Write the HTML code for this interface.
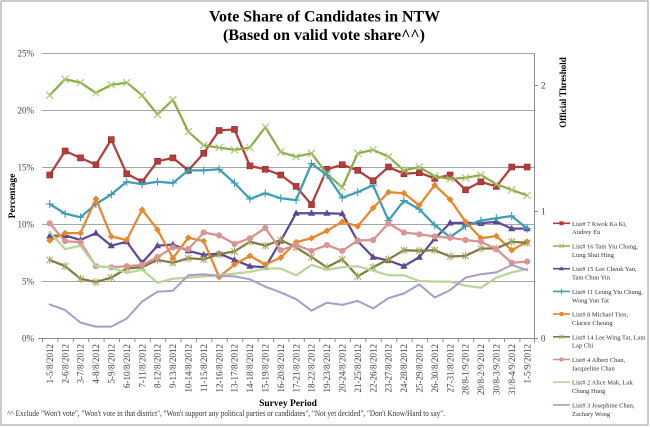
<!DOCTYPE html>
<html><head><meta charset="utf-8"><style>
html,body{margin:0;padding:0;background:#fff;}
svg{display:block;}
text{font-family:"Liberation Serif","Times New Roman",serif;}
</style></head><body>
<svg width="650" height="427" viewBox="0 0 650 427" xmlns="http://www.w3.org/2000/svg">
<defs>
<marker id="mSq" markerWidth="8" markerHeight="8" refX="4" refY="4" markerUnits="userSpaceOnUse"><rect x="1" y="1" width="6" height="6" fill="#B63B3B" stroke="#8F2D2B" stroke-width="0.6"/></marker>
<marker id="mX" markerWidth="10" markerHeight="10" refX="5" refY="5" markerUnits="userSpaceOnUse"><path d="M1.5,1.5 L8.5,8.5 M8.5,1.5 L1.5,8.5" stroke="#A9C56E" stroke-width="1.1" fill="none"/></marker>
<marker id="mTri" markerWidth="10" markerHeight="10" refX="5" refY="5" markerUnits="userSpaceOnUse"><path d="M5,1.2 L8.6,7.6 L1.4,7.6 Z" fill="#5B4893"/></marker>
<marker id="mPlus" markerWidth="10" markerHeight="10" refX="5" refY="5" markerUnits="userSpaceOnUse"><path d="M5,1 V9 M1,5 H9" stroke="#3C9DB6" stroke-width="1.1" fill="none"/></marker>
<marker id="mOr" markerWidth="10" markerHeight="10" refX="5" refY="5" markerUnits="userSpaceOnUse"><path d="M5,1.6 L8.4,5 L5,8.4 L1.6,5 Z" fill="#E8872C"/></marker>
<marker id="mStar" markerWidth="10" markerHeight="10" refX="5" refY="5" markerUnits="userSpaceOnUse"><path d="M1.8,1.8 L8.2,8.2 M8.2,1.8 L1.8,8.2 M5,1 V9" stroke="#A7A35A" stroke-width="1" fill="none"/></marker>
<marker id="mCir" markerWidth="10" markerHeight="10" refX="5" refY="5" markerUnits="userSpaceOnUse"><circle cx="5" cy="5" r="3.1" fill="#D99594"/></marker>
</defs>

<rect x="1" y="1" width="647" height="424" fill="#fff" stroke="#9A9A9A" stroke-width="1"/>

<!-- Title -->
<text x="324.5" y="21.7" font-size="16" font-weight="bold" text-anchor="middle" textLength="231" lengthAdjust="spacingAndGlyphs" fill="#000">Vote Share of Candidates in NTW</text>
<text x="324" y="40" font-size="16" font-weight="bold" text-anchor="middle" textLength="202" lengthAdjust="spacingAndGlyphs" fill="#000">(Based on valid vote share^^)</text>

<!-- gridlines -->
<g stroke="#A6A6A6" stroke-width="1">
<line x1="42" y1="53.5" x2="534.5" y2="53.5"/>
<line x1="42" y1="110.5" x2="534.5" y2="110.5"/>
<line x1="42" y1="167.5" x2="534.5" y2="167.5"/>
<line x1="42" y1="224.5" x2="534.5" y2="224.5"/>
<line x1="42" y1="281.5" x2="534.5" y2="281.5"/>
</g>
<g stroke="#8C8C8C" stroke-width="1">
<line x1="42" y1="338.5" x2="534.5" y2="338.5"/>
<line x1="534.5" y1="53" x2="534.5" y2="338.5"/>
<line x1="534.5" y1="85.5" x2="538" y2="85.5"/>
<line x1="534.5" y1="211.5" x2="538" y2="211.5"/>
<line x1="534.5" y1="338.5" x2="538" y2="338.5"/>
<line x1="38" y1="338.5" x2="42" y2="338.5"/>
</g>
<!-- x ticks -->
<g stroke="#8C8C8C" stroke-width="1">
<line x1="42.5" y1="338" x2="42.5" y2="342"/><line x1="57.9" y1="338" x2="57.9" y2="342"/><line x1="73.3" y1="338" x2="73.3" y2="342"/><line x1="88.7" y1="338" x2="88.7" y2="342"/><line x1="104.1" y1="338" x2="104.1" y2="342"/><line x1="119.5" y1="338" x2="119.5" y2="342"/><line x1="134.9" y1="338" x2="134.9" y2="342"/><line x1="150.3" y1="338" x2="150.3" y2="342"/><line x1="165.7" y1="338" x2="165.7" y2="342"/><line x1="181.1" y1="338" x2="181.1" y2="342"/><line x1="196.5" y1="338" x2="196.5" y2="342"/><line x1="211.9" y1="338" x2="211.9" y2="342"/><line x1="227.3" y1="338" x2="227.3" y2="342"/><line x1="242.7" y1="338" x2="242.7" y2="342"/><line x1="258.1" y1="338" x2="258.1" y2="342"/><line x1="273.5" y1="338" x2="273.5" y2="342"/><line x1="288.9" y1="338" x2="288.9" y2="342"/><line x1="304.3" y1="338" x2="304.3" y2="342"/><line x1="319.7" y1="338" x2="319.7" y2="342"/><line x1="335.1" y1="338" x2="335.1" y2="342"/><line x1="350.5" y1="338" x2="350.5" y2="342"/><line x1="365.9" y1="338" x2="365.9" y2="342"/><line x1="381.3" y1="338" x2="381.3" y2="342"/><line x1="396.7" y1="338" x2="396.7" y2="342"/><line x1="412.1" y1="338" x2="412.1" y2="342"/><line x1="427.5" y1="338" x2="427.5" y2="342"/><line x1="442.9" y1="338" x2="442.9" y2="342"/><line x1="458.3" y1="338" x2="458.3" y2="342"/><line x1="473.7" y1="338" x2="473.7" y2="342"/><line x1="489.1" y1="338" x2="489.1" y2="342"/><line x1="504.5" y1="338" x2="504.5" y2="342"/><line x1="519.9" y1="338" x2="519.9" y2="342"/><line x1="534.5" y1="338" x2="534.5" y2="342"/>
</g>

<!-- y labels -->
<g font-size="9" fill="#404040" text-anchor="end">
<text x="34" y="56.5">25%</text>
<text x="34" y="113.5">20%</text>
<text x="34" y="170.5">15%</text>
<text x="34" y="227.5">10%</text>
<text x="34" y="284.5">5%</text>
<text x="34" y="341.5">0%</text>
</g>
<g font-size="9" fill="#404040">
<text x="541" y="88.5">2</text>
<text x="541" y="214.5">1</text>
<text x="541" y="341.5">0</text>
</g>
<text transform="translate(15,196) rotate(-90)" font-size="9.5" font-weight="bold" text-anchor="middle" fill="#000">Percentage</text>
<text transform="translate(566,92.5) rotate(-90)" font-size="9" font-weight="bold" text-anchor="middle" fill="#000">Official Threshold</text>

<!-- x labels -->
<g font-size="9" fill="#404040" text-anchor="end">
<text transform="translate(52.9,344) rotate(-90)">1-5/8/2012</text>
<text transform="translate(68.3,344) rotate(-90)">2-6/8/2012</text>
<text transform="translate(83.7,344) rotate(-90)">3-7/8/2012</text>
<text transform="translate(99.1,344) rotate(-90)">4-8/8/2012</text>
<text transform="translate(114.5,344) rotate(-90)">5-9/8/2012</text>
<text transform="translate(129.9,344) rotate(-90)">6-10/8/2012</text>
<text transform="translate(145.3,344) rotate(-90)">7-11/8/2012</text>
<text transform="translate(160.7,344) rotate(-90)">8-12/8/2012</text>
<text transform="translate(176.1,344) rotate(-90)">9-13/8/2012</text>
<text transform="translate(191.5,344) rotate(-90)">10-14/8/2012</text>
<text transform="translate(206.9,344) rotate(-90)">11-15/8/2012</text>
<text transform="translate(222.3,344) rotate(-90)">12-16/8/2012</text>
<text transform="translate(237.7,344) rotate(-90)">13-17/8/2012</text>
<text transform="translate(253.1,344) rotate(-90)">14-18/8/2012</text>
<text transform="translate(268.5,344) rotate(-90)">15-19/8/2012</text>
<text transform="translate(283.9,344) rotate(-90)">16-20/8/2012</text>
<text transform="translate(299.3,344) rotate(-90)">17-21/8/2012</text>
<text transform="translate(314.7,344) rotate(-90)">18-22/8/2012</text>
<text transform="translate(330.1,344) rotate(-90)">19-23/8/2012</text>
<text transform="translate(345.5,344) rotate(-90)">20-24/8/2012</text>
<text transform="translate(360.9,344) rotate(-90)">21-25/8/2012</text>
<text transform="translate(376.3,344) rotate(-90)">22-26/8/2012</text>
<text transform="translate(391.7,344) rotate(-90)">23-27/8/2012</text>
<text transform="translate(407.1,344) rotate(-90)">24-28/8/2012</text>
<text transform="translate(422.5,344) rotate(-90)">25-29/8/2012</text>
<text transform="translate(437.9,344) rotate(-90)">26-30/8/2012</text>
<text transform="translate(453.3,344) rotate(-90)">27-31/8/2012</text>
<text transform="translate(468.7,344) rotate(-90)">28/8-1/9/2012</text>
<text transform="translate(484.1,344) rotate(-90)">29/8-2/9/2012</text>
<text transform="translate(499.5,344) rotate(-90)">30/8-3/9/2012</text>
<text transform="translate(514.9,344) rotate(-90)">31/8-4/9/2012</text>
<text transform="translate(530.3,344) rotate(-90)">1-5/9/2012</text>
</g>

<text x="288" y="406" font-size="9.5" font-weight="bold" text-anchor="middle" fill="#000">Survey Period</text>
<text x="7" y="416" font-size="8" fill="#333" textLength="438" lengthAdjust="spacingAndGlyphs">^^ Exclude "Won't vote", "Won't vote in that district", "Won't support any political parties or candidates", "Not yet decided", "Don't Know/Hard to say".</text>

<!-- series -->
<g fill="none" stroke-linejoin="round" stroke-linecap="round">
<polyline stroke="#B13E3D" stroke-width="2.25" marker-start="url(#mSq)" marker-mid="url(#mSq)" marker-end="url(#mSq)" points="49.7,175.0 65.1,151.0 80.5,157.9 95.9,164.7 111.3,139.6 126.7,173.8 142.1,181.8 157.5,161.3 172.9,157.9 188.3,170.4 203.7,153.3 219.1,130.5 234.5,129.4 249.9,165.9 265.3,169.3 280.7,175.0 296.1,186.4 311.5,204.6 326.9,169.3 342.3,164.7 357.7,170.4 373.1,180.7 388.5,167.0 403.9,173.8 419.3,172.7 434.7,178.4 450.1,175.0 465.5,189.8 480.9,181.8 496.3,186.4 511.7,167.0 527.1,167.0"/>
<polyline stroke="#8CAD4A" stroke-width="2.25" marker-start="url(#mX)" marker-mid="url(#mX)" marker-end="url(#mX)" points="49.7,95.2 65.1,79.2 80.5,82.6 95.9,92.9 111.3,84.9 126.7,82.6 142.1,95.2 157.5,114.6 172.9,99.7 188.3,131.7 203.7,145.3 219.1,147.6 234.5,149.9 249.9,147.6 265.3,127.1 280.7,152.2 296.1,156.7 311.5,153.3 326.9,173.8 342.3,187.5 357.7,153.3 373.1,149.9 388.5,156.7 403.9,170.4 419.3,167.0 434.7,176.1 450.1,179.0 465.5,177.8 480.9,175.0 496.3,184.1 511.7,189.8 527.1,195.5"/>
<polyline stroke="#5E4A95" stroke-width="2.25" marker-start="url(#mTri)" marker-mid="url(#mTri)" marker-end="url(#mTri)" points="49.7,236.0 65.1,235.4 80.5,240.0 95.9,233.1 111.3,245.7 126.7,241.7 142.1,262.8 157.5,245.7 172.9,244.5 188.3,250.8 203.7,254.8 219.1,253.6 234.5,259.9 249.9,266.2 265.3,267.3 280.7,241.1 296.1,213.2 311.5,213.2 326.9,213.2 342.3,213.7 357.7,241.1 373.1,257.1 388.5,260.5 403.9,266.2 419.3,257.1 434.7,238.8 450.1,222.9 465.5,222.9 480.9,223.4 496.3,221.7 511.7,228.6 527.1,228.6"/>
<polyline stroke="#3C9DB6" stroke-width="2.25" marker-start="url(#mPlus)" marker-mid="url(#mPlus)" marker-end="url(#mPlus)" points="49.7,204.0 65.1,213.7 80.5,217.2 95.9,204.0 111.3,194.4 126.7,181.8 142.1,184.1 157.5,181.8 172.9,183.0 188.3,170.4 203.7,170.4 219.1,169.3 234.5,183.0 249.9,198.9 265.3,193.2 280.7,198.3 296.1,200.1 311.5,163.6 326.9,175.0 342.3,197.8 357.7,192.1 373.1,185.2 388.5,220.6 403.9,200.6 419.3,209.2 434.7,225.1 450.1,237.1 465.5,226.3 480.9,220.6 496.3,218.3 511.7,216.0 527.1,228.6"/>
<polyline stroke="#E8872C" stroke-width="2.25" marker-start="url(#mOr)" marker-mid="url(#mOr)" marker-end="url(#mOr)" points="49.7,240.5 65.1,233.1 80.5,233.1 95.9,198.9 111.3,236.5 126.7,240.0 142.1,209.7 157.5,229.7 172.9,258.2 188.3,237.7 203.7,241.1 219.1,277.0 234.5,264.5 249.9,255.9 265.3,264.5 280.7,257.6 296.1,242.2 311.5,238.2 326.9,230.8 342.3,221.7 357.7,226.3 373.1,208.0 388.5,192.1 403.9,193.2 419.3,205.2 434.7,185.2 450.1,199.5 465.5,221.7 480.9,238.2 496.3,236.0 511.7,250.2 527.1,241.7"/>
<polyline stroke="#7D7D44" stroke-width="2.25" marker-start="url(#mStar)" marker-mid="url(#mStar)" marker-end="url(#mStar)" points="49.7,259.9 65.1,266.2 80.5,278.7 95.9,282.1 111.3,277.6 126.7,268.5 142.1,267.3 157.5,259.9 172.9,262.8 188.3,258.2 203.7,259.3 219.1,254.2 234.5,251.4 249.9,241.7 265.3,245.7 280.7,240.0 296.1,247.4 311.5,257.1 326.9,267.3 342.3,259.3 357.7,276.4 373.1,267.3 388.5,259.3 403.9,250.2 419.3,250.8 434.7,250.2 450.1,256.5 465.5,255.9 480.9,248.5 496.3,248.5 511.7,241.7 527.1,242.8"/>
<polyline stroke="#D9908F" stroke-width="2.25" marker-start="url(#mCir)" marker-mid="url(#mCir)" marker-end="url(#mCir)" points="49.7,223.4 65.1,241.1 80.5,242.2 95.9,266.2 111.3,267.3 126.7,266.2 142.1,265.0 157.5,257.1 172.9,247.4 188.3,249.1 203.7,232.5 219.1,235.4 234.5,243.9 249.9,238.2 265.3,228.0 280.7,250.2 296.1,245.1 311.5,250.8 326.9,245.1 342.3,250.8 357.7,240.5 373.1,240.0 388.5,223.4 403.9,232.5 419.3,234.3 434.7,236.5 450.1,237.7 465.5,240.0 480.9,241.7 496.3,249.1 511.7,262.8 527.1,261.6"/>
<polyline stroke="#BAD49A" stroke-width="2.25" points="49.7,232.0 65.1,249.1 80.5,245.7 95.9,266.2 111.3,267.3 126.7,273.0 142.1,269.6 157.5,282.7 172.9,278.7 188.3,277.6 203.7,276.4 219.1,275.3 234.5,273.6 249.9,271.9 265.3,268.5 280.7,268.5 296.1,275.3 311.5,265.0 326.9,269.6 342.3,267.3 357.7,266.2 373.1,270.7 388.5,275.3 403.9,275.3 419.3,281.0 434.7,281.6 450.1,281.6 465.5,285.6 480.9,287.8 496.3,277.6 511.7,272.4 527.1,269.0"/>
<polyline stroke="#A99CCB" stroke-width="2" points="49.7,304.4 65.1,310.1 80.5,322.6 95.9,326.6 111.3,326.6 126.7,318.6 142.1,301.5 157.5,291.8 172.9,290.7 188.3,275.3 203.7,274.2 219.1,275.9 234.5,276.4 249.9,279.3 265.3,286.7 280.7,292.4 296.1,299.2 311.5,310.6 326.9,302.7 342.3,304.9 357.7,300.9 373.1,308.4 388.5,298.1 403.9,293.5 419.3,284.4 434.7,297.5 450.1,290.1 465.5,277.6 480.9,274.2 496.3,272.4 511.7,265.0 527.1,270.2"/>
</g>

<!-- legend -->
<g fill="none" stroke-width="1.6">
<line x1="553" y1="223.3" x2="570" y2="223.3" stroke="#B13E3D"/>
<line x1="553" y1="246" x2="570" y2="246" stroke="#8CAD4A"/>
<line x1="553" y1="268.7" x2="570" y2="268.7" stroke="#5E4A95"/>
<line x1="553" y1="291.4" x2="570" y2="291.4" stroke="#3C9DB6"/>
<line x1="553" y1="314.1" x2="570" y2="314.1" stroke="#E8872C"/>
<line x1="553" y1="336.8" x2="570" y2="336.8" stroke="#7D7D44"/>
<line x1="553" y1="359.5" x2="570" y2="359.5" stroke="#D9908F"/>
<line x1="553" y1="382.2" x2="570" y2="382.2" stroke="#BAD49A"/>
<line x1="553" y1="404.9" x2="570" y2="404.9" stroke="#A99CCB"/>
</g>
<rect x="559.5" y="221.3" width="4" height="4" fill="#B63B3B"/>
<path d="M559.5,244 l4,4 M563.5,244 l-4,4" stroke="#A9C56E" stroke-width="1"/>
<path d="M561.5,266.2 l2.5,4 h-5 z" fill="#5B4893"/>
<path d="M561.5,288.9 v5 M559,291.4 h5" stroke="#3C9DB6" stroke-width="1"/>
<circle cx="561.5" cy="314.1" r="2.2" fill="#E8872C"/>
<path d="M559.5,334.8 l4,4 M563.5,334.8 l-4,4" stroke="#A7A35A" stroke-width="1"/>
<circle cx="561.5" cy="359.5" r="2.2" fill="#D99594"/>

<g font-size="6.5" fill="#333">
<text x="572" y="225.8">List# 7 Kwok Ka Ki,</text><text x="572" y="234.2">Audrey Eu</text>
<text x="572" y="248.5">List# 16 Tam Yiu Chung,</text><text x="572" y="256.9">Lung Shui Hing</text>
<text x="572" y="271.2">List# 15 Lee Cheuk Yan,</text><text x="572" y="279.6">Tam Chun Yin</text>
<text x="572" y="293.9">List# 11 Leung Yiu Chung,</text><text x="572" y="302.3">Wong Yun Tat</text>
<text x="572" y="316.6">List# 8 Michael Tien,</text><text x="572" y="325">Clarice Cheung</text>
<text x="572" y="339.3">List# 14 Lee Wing Tat, Lam</text><text x="572" y="347.7">Lap Chi</text>
<text x="572" y="362">List# 4 Albert Chan,</text><text x="572" y="370.4">Jacqueline Chan</text>
<text x="572" y="384.7">List# 2 Alice Mak, Luk</text><text x="572" y="393.1">Chung Hung</text>
<text x="572" y="407.4">List# 3 Josephine Chan,</text><text x="572" y="415.8">Zachary Wong</text>
</g>
</svg>
</body></html>
